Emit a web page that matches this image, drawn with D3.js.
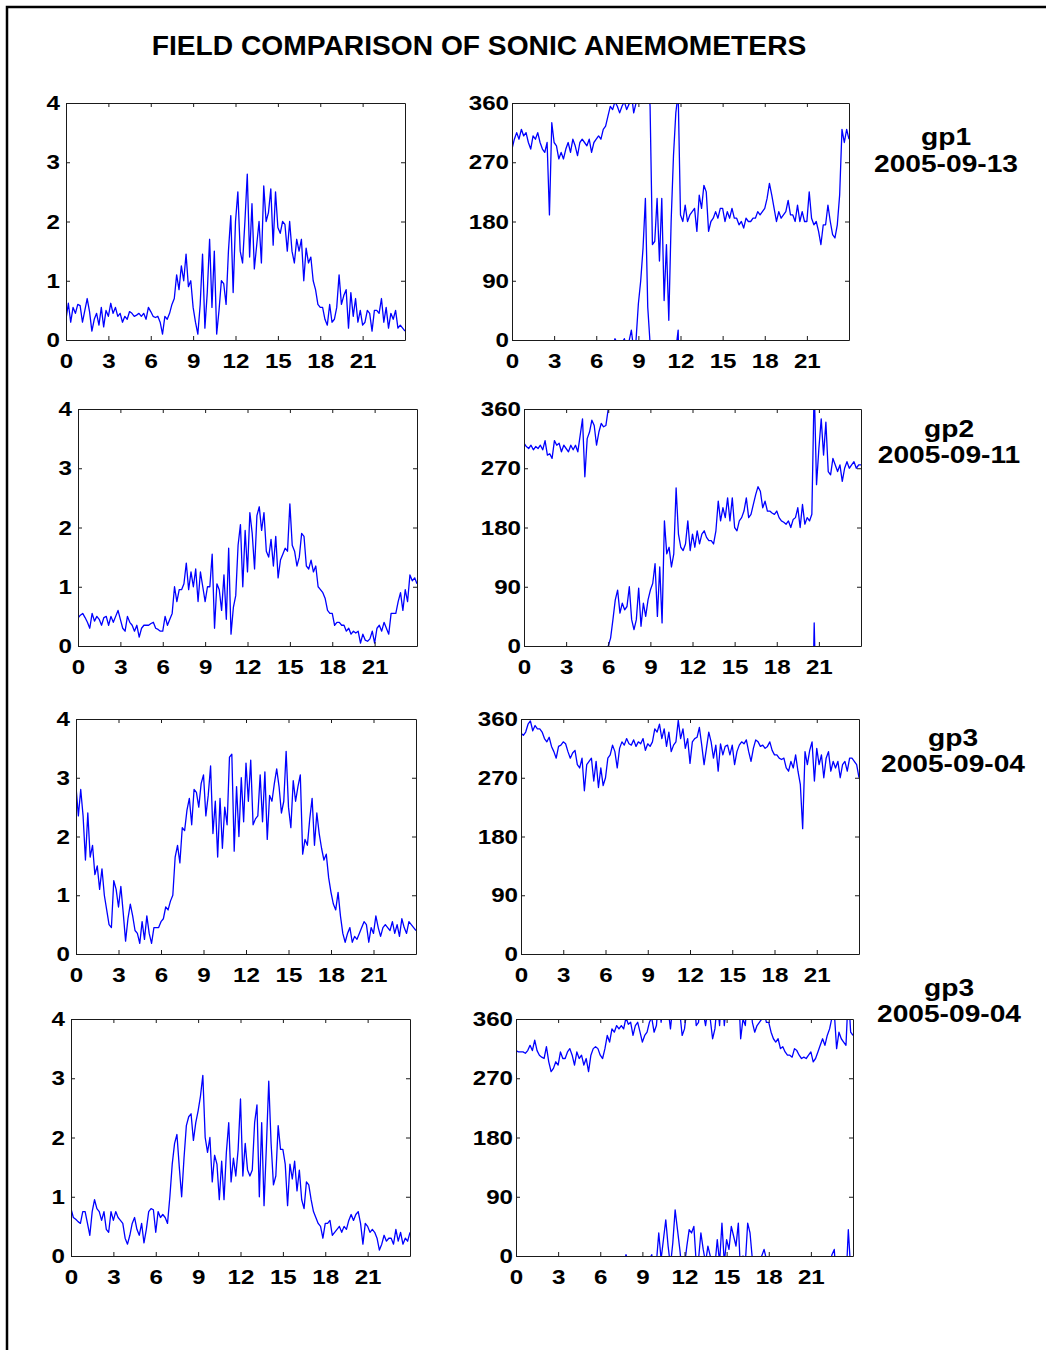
<!DOCTYPE html>
<html><head><meta charset="utf-8">
<script src="https://cdn.jsdelivr.net/npm/d3@7"></script>
<style>
body{margin:0;background:#fff;}
svg text{font-family:"Liberation Sans",Arial,Helvetica,sans-serif;font-weight:bold;}
</style></head><body>
<svg id="chart" width="1046" height="1350"></svg>
<script>
// ---------------- DATA ----------------
const title = "FIELD COMPARISON OF SONIC ANEMOMETERS";
const hourTicks = [0, 3, 6, 9, 12, 15, 18, 21];
const speedTicks = [0, 1, 2, 3, 4];
const dirTicks = [0, 90, 180, 270, 360];
const stations = ["gp1", "gp2", "gp3", "gp3"];
const dates = ["2005-09-13", "2005-09-11", "2005-09-04", "2005-09-04"];

// 10-minute values, 00:00 .. 24:00 (145 points). Speed in m/s.
const speed_gp1 = [
0.35,0.62,0.30,0.55,0.45,0.60, 0.58,0.30,0.50,0.70,0.48,0.15, 0.35,0.45,0.25,0.55,0.22,0.50,
0.40,0.62,0.45,0.55,0.40,0.45, 0.30,0.40,0.35,0.48,0.45,0.40, 0.42,0.45,0.40,0.45,0.35,0.55,
0.48,0.40,0.38,0.40,0.30,0.10, 0.40,0.35,0.45,0.60,0.70,1.10, 0.85,1.25,1.00,1.45,0.90,1.00,
0.55,0.30,0.10,0.60,1.45,0.20, 0.80,1.70,0.55,1.50,0.10,0.50, 1.00,0.95,0.60,1.50,2.10,0.80,
2.00,2.50,1.50,1.30,2.00,2.80, 1.40,2.30,1.20,1.60,2.00,1.30, 2.60,2.00,2.15,2.55,1.60,2.50,
1.90,1.80,2.00,1.95,1.50,2.00, 1.50,1.30,1.70,1.50,1.70,1.00, 1.55,1.30,1.40,1.00,0.85,0.60,
0.55,0.55,0.35,0.25,0.60,0.30, 0.35,0.55,1.10,0.60,0.75,0.85, 0.20,0.80,0.40,0.70,0.30,0.50,
0.25,0.30,0.50,0.45,0.15,0.50, 0.50,0.45,0.70,0.30,0.55,0.20, 0.45,0.35,0.50,0.20,0.25,0.20,
0.15];
// Direction in degrees, unwrapped (values above 360 continue past north and show again from 0).
const dir_gp1 = [
290,305,315,305,320,310, 315,300,290,310,305,315, 300,290,285,300,190,330,
300,295,275,285,275,290, 300,285,305,295,280,300, 305,300,295,305,285,300,
305,310,305,320,325,340, 355,350,362,355,345,355, 362,350,358,375,345,360,
415,450,500,575,410,355, 145,150,215,120,215,60, 145,30,180,280,345,375,
190,180,205,180,190,195, 200,165,220,200,235,225, 165,180,185,195,185,200,
200,180,195,185,200,185, 185,175,180,170,185,180, 180,185,185,195,190,195,
200,215,238,220,200,180, 195,185,190,195,212,190, 190,180,205,180,195,180,
180,225,185,175,180,165, 145,175,175,205,180,160, 155,175,220,320,300,320,
305];
const speed_gp2 = [
0.47,0.52,0.55,0.48,0.40,0.30, 0.55,0.42,0.50,0.45,0.35,0.48, 0.50,0.35,0.50,0.40,0.50,0.60,
0.45,0.30,0.25,0.50,0.40,0.35, 0.25,0.35,0.15,0.30,0.35,0.35, 0.35,0.38,0.40,0.30,0.28,0.25,
0.25,0.50,0.35,0.45,0.55,1.00, 0.75,0.95,0.95,1.05,1.40,0.95, 1.25,1.00,1.30,0.75,1.25,1.00,
0.75,1.00,1.00,1.55,0.30,1.05, 0.95,0.60,1.20,0.45,1.65,0.20, 0.65,0.85,1.70,2.05,1.00,1.95,
1.25,2.25,1.90,1.30,2.20,2.35, 1.95,2.25,1.60,1.50,1.80,1.35, 1.85,1.15,1.45,1.55,1.65,1.60,
2.40,1.70,1.60,1.35,1.50,1.90, 1.85,1.35,1.30,1.45,1.25,1.35, 1.00,0.95,0.90,0.80,0.60,0.55,
0.55,0.35,0.40,0.40,0.35,0.35, 0.25,0.30,0.20,0.25,0.22,0.25, 0.05,0.20,0.10,0.08,0.12,0.25,
0.05,0.30,0.35,0.25,0.40,0.30, 0.20,0.55,0.55,0.55,0.75,0.90, 0.60,0.95,0.75,1.20,1.10,1.15,
1.05];
const dir_gp2 = [
308,303,300,305,298,303, 300,305,298,312,290,292, 285,312,305,308,295,305,
300,295,305,298,305,295, 320,345,257,315,325,343, 335,305,325,338,333,335,
360,372,400,430,445,410, 425,415,420,450,400,385, 400,448,390,425,405,430,
445,455,485,405,480,395, 550,500,510,480,500,600, 530,510,505,515,550,505,
530,510,535,515,530,535, 525,520,520,515,535,580, 550,570,555,585,550,585,
540,535,550,555,565,585, 555,560,575,590,602,595, 570,580,565,565,562,560,
565,555,550,548,545,550, 540,552,555,570,540,575, 545,555,550,560,755,605,
660,705,650,700,625,620, 645,635,625,635,610,630, 640,630,635,640,630,635,
635];
const speed_gp3a = [
2.85,2.35,2.80,2.35,1.60,2.40, 1.65,1.85,1.35,1.50,1.10,1.45, 1.00,0.75,0.50,0.45,1.25,1.10,
0.80,1.15,0.70,0.22,0.60,0.85, 0.65,0.40,0.35,0.18,0.55,0.25, 0.65,0.35,0.18,0.45,0.45,0.45,
0.55,0.60,0.80,0.75,0.90,1.00, 1.65,1.85,1.55,2.15,2.10,2.45, 2.65,2.20,2.80,2.75,2.50,2.90,
3.05,2.35,2.70,3.20,2.05,2.60, 1.65,2.65,1.80,2.50,2.20,3.35, 3.40,1.75,2.85,2.00,3.00,2.25,
3.25,2.60,3.30,2.20,2.30,2.35, 3.05,2.25,3.10,1.95,2.70,2.60, 2.90,3.15,2.85,2.40,2.60,3.45,
2.50,2.15,2.95,2.60,2.85,3.05, 1.70,1.95,1.85,2.30,2.65,1.85, 2.40,2.05,1.80,1.60,1.70,1.30,
1.05,0.85,0.75,1.05,0.65,0.35, 0.20,0.35,0.45,0.20,0.30,0.25, 0.35,0.45,0.55,0.50,0.20,0.45,
0.35,0.65,0.45,0.30,0.45,0.50, 0.45,0.40,0.55,0.35,0.50,0.30, 0.60,0.45,0.35,0.55,0.50,0.45,
0.40];
const dir_gp3a = [
338,335,340,352,357,342, 350,345,345,340,330,325, 332,318,310,300,318,320,
325,322,310,300,308,312, 290,285,300,250,290,295, 300,265,295,255,285,258,
270,300,305,320,310,285, 315,325,320,330,322,320, 328,318,325,322,330,312,
322,318,325,345,340,352, 330,345,318,340,310,320, 325,358,330,345,315,330,
292,325,330,332,347,320, 290,315,340,325,300,320, 280,322,305,318,320,305,
320,290,310,320,325,322, 328,310,295,315,328,325, 318,320,315,318,325,312,
305,305,300,298,300,285, 280,295,285,305,280,260, 192,310,290,312,325,265,
315,290,305,270,300,310, 280,295,285,295,270,290, 295,280,300,300,295,290,
270];
const speed_gp3b = [
0.80,0.65,0.62,0.58,0.55,0.75, 0.75,0.55,0.35,0.75,0.95,0.80, 0.75,0.60,0.75,0.45,0.40,0.75,
0.60,0.75,0.65,0.60,0.55,0.30, 0.20,0.35,0.55,0.65,0.45,0.35, 0.55,0.22,0.45,0.75,0.80,0.78,
0.40,0.75,0.65,0.70,0.65,0.55, 1.00,1.55,1.90,2.05,1.50,1.00, 1.65,2.20,2.35,2.40,1.95,2.25,
2.45,2.70,3.05,2.00,1.75,2.00, 1.25,1.70,1.55,0.95,1.60,0.95, 1.75,2.25,1.25,1.65,1.35,1.80,
2.65,1.35,1.90,1.45,1.35,1.45, 2.25,2.55,1.00,2.25,0.85,1.85, 2.95,1.90,1.20,1.35,2.20,1.80,
1.80,1.55,0.85,1.55,1.30,1.60, 1.10,1.45,0.95,0.80,1.25,1.20, 0.95,0.75,0.65,0.55,0.50,0.30,
0.55,0.55,0.60,0.35,0.40,0.45, 0.50,0.40,0.50,0.45,0.60,0.70, 0.60,0.70,0.75,0.55,0.20,0.55,
0.50,0.40,0.45,0.40,0.30,0.10, 0.20,0.35,0.25,0.30,0.30,0.20, 0.45,0.25,0.40,0.20,0.30,0.25,
0.40];
const dir_gp3b = [
312,310,310,310,308,312, 320,312,328,312,305,302, 300,318,295,280,285,295,
290,310,300,300,310,315, 305,290,310,300,305,290, 300,280,305,315,318,315,
305,300,315,335,325,345, 340,350,345,350,345,362, 352,355,335,350,355,340,
325,335,340,355,362,340, 350,395,355,385,415,375, 345,380,430,400,370,335,
345,375,400,395,405,350, 355,395,370,350,375,360, 330,345,385,350,410,350,
385,370,405,390,375,410, 330,360,350,410,395,355, 340,350,355,360,370,355,
355,340,330,325,330,315, 318,310,305,305,302,315, 312,305,300,302,300,305,
310,295,300,310,320,330, 320,335,345,362,370,315, 340,330,325,320,400,340,
335];

const speedSeries = [speed_gp1, speed_gp2, speed_gp3a, speed_gp3b];
const dirSeries = [dir_gp1, dir_gp2, dir_gp3a, dir_gp3b];

// ---------------- LAYOUT ----------------
const W = 1046, H = 1350;
const leftBoxes = [
  {x0:66, x1:405, y0:103, y1:340},
  {x0:78, x1:417, y0:409, y1:646},
  {x0:76, x1:416, y0:719, y1:954},
  {x0:71, x1:410, y0:1019, y1:1256}
];
const rightBoxes = [
  {x0:512, x1:849, y0:103, y1:340},
  {x0:524, x1:861, y0:409, y1:646},
  {x0:521, x1:859, y0:719, y1:954},
  {x0:516, x1:853, y0:1019, y1:1256}
];
const sidePos = [
  {cx:946, y1:145, y2:172},
  {cx:949, y1:437, y2:463},
  {cx:953, y1:746, y2:772},
  {cx:949, y1:996, y2:1022}
];
const FONT = '"Liberation Sans", Arial, Helvetica, sans-serif';
const LINE_COLOR = "#0000ff";
const TICK_FONT = 21;
const TICK_STRETCH = 1.15;
const SIDE_FONT = 24.5;
const SIDE_STRETCH = 1.15;

const svg = d3.select("#chart");
svg.append("rect").attr("width", W).attr("height", H).attr("fill", "#fff");
svg.append("path").attr("d", `M7,${H} V7 H${W}`).attr("fill", "none")
  .attr("stroke", "#000").attr("stroke-width", 2.5);

svg.append("text").attr("x", 479).attr("y", 55).attr("text-anchor", "middle")
  .attr("font-size", 28.2).attr("fill", "#000").text(title);

const defs = svg.append("defs");
let clipCount = 0;

function drawPanel(box, values, yDomain, yTicks, yPad, wrap) {
  const x = d3.scaleLinear().domain([0, 24]).range([box.x0, box.x1]);
  const y = d3.scaleLinear().domain(yDomain).range([box.y1, box.y0]);
  const id = "clip" + (clipCount++);
  defs.append("clipPath").attr("id", id).append("rect")
    .attr("x", box.x0).attr("y", box.y0)
    .attr("width", box.x1 - box.x0).attr("height", box.y1 - box.y0);

  const g = svg.append("g");
  const n = values.length;
  const line = d3.line().x((d, i) => x(i * 24 / (n - 1))).y(d => y(d));
  let offsets = [0];
  if (wrap) {
    const mx = d3.max(values), mn = d3.min(values);
    offsets = [];
    for (let k = -Math.floor(mx / 360); k <= Math.ceil(-mn / 360); k++) offsets.push(k * 360);
  }
  const lg = g.append("g").attr("clip-path", `url(#${id})`);
  offsets.forEach(off => {
    lg.append("path").datum(values.map(v => v + off)).attr("d", line)
      .attr("fill", "none").attr("stroke", LINE_COLOR).attr("stroke-width", 1.3)
      .attr("stroke-linejoin", "round");
  });

  const styleAxis = sel => {
    sel.attr("font-size", TICK_FONT).attr("font-family", FONT).attr("font-weight", "bold")
      .attr("color", "#1a1a1a");
    sel.selectAll("text").attr("fill", "#000");
    sel.select(".domain").attr("stroke-width", 1);
  };
  const stretch = sel => {
    sel.selectAll(".tick text").each(function () {
      const t = d3.select(this);
      const tx = +t.attr("x") || 0;
      t.attr("x", 0).attr("transform", `translate(${tx},0) scale(${TICK_STRETCH},1)`);
    });
  };
  const fmt = d3.format("d");
  g.append("g").attr("transform", `translate(0,${box.y1})`)
    .call(d3.axisBottom(x).tickValues(hourTicks).tickFormat(fmt).tickSizeInner(-4).tickSizeOuter(0).tickPadding(13))
    .call(styleAxis).call(stretch);
  g.append("g").attr("transform", `translate(0,${box.y0})`)
    .call(d3.axisTop(x).tickValues(hourTicks).tickSizeInner(-4).tickSizeOuter(0).tickFormat(""))
    .call(styleAxis);
  g.append("g").attr("transform", `translate(${box.x0},0)`)
    .call(d3.axisLeft(y).tickValues(yTicks).tickFormat(fmt).tickSizeInner(-4).tickSizeOuter(0).tickPadding(yPad))
    .call(styleAxis).call(stretch);
  g.append("g").attr("transform", `translate(${box.x1},0)`)
    .call(d3.axisRight(y).tickValues(yTicks).tickSizeInner(-4).tickSizeOuter(0).tickFormat(""))
    .call(styleAxis);
}

for (let r = 0; r < 4; r++) {
  drawPanel(leftBoxes[r], speedSeries[r], [0, 4], speedTicks, 6, false);
  drawPanel(rightBoxes[r], dirSeries[r], [0, 360], dirTicks, 3, true);
  const p = sidePos[r];
  const t = svg.append("text").attr("text-anchor", "middle")
    .attr("transform", `translate(${p.cx},0) scale(${SIDE_STRETCH},1)`)
    .attr("font-size", SIDE_FONT).attr("fill", "#000");
  t.append("tspan").attr("x", 0).attr("y", p.y1).text(stations[r]);
  t.append("tspan").attr("x", 0).attr("y", p.y2).text(dates[r]);
}
</script></body></html>
